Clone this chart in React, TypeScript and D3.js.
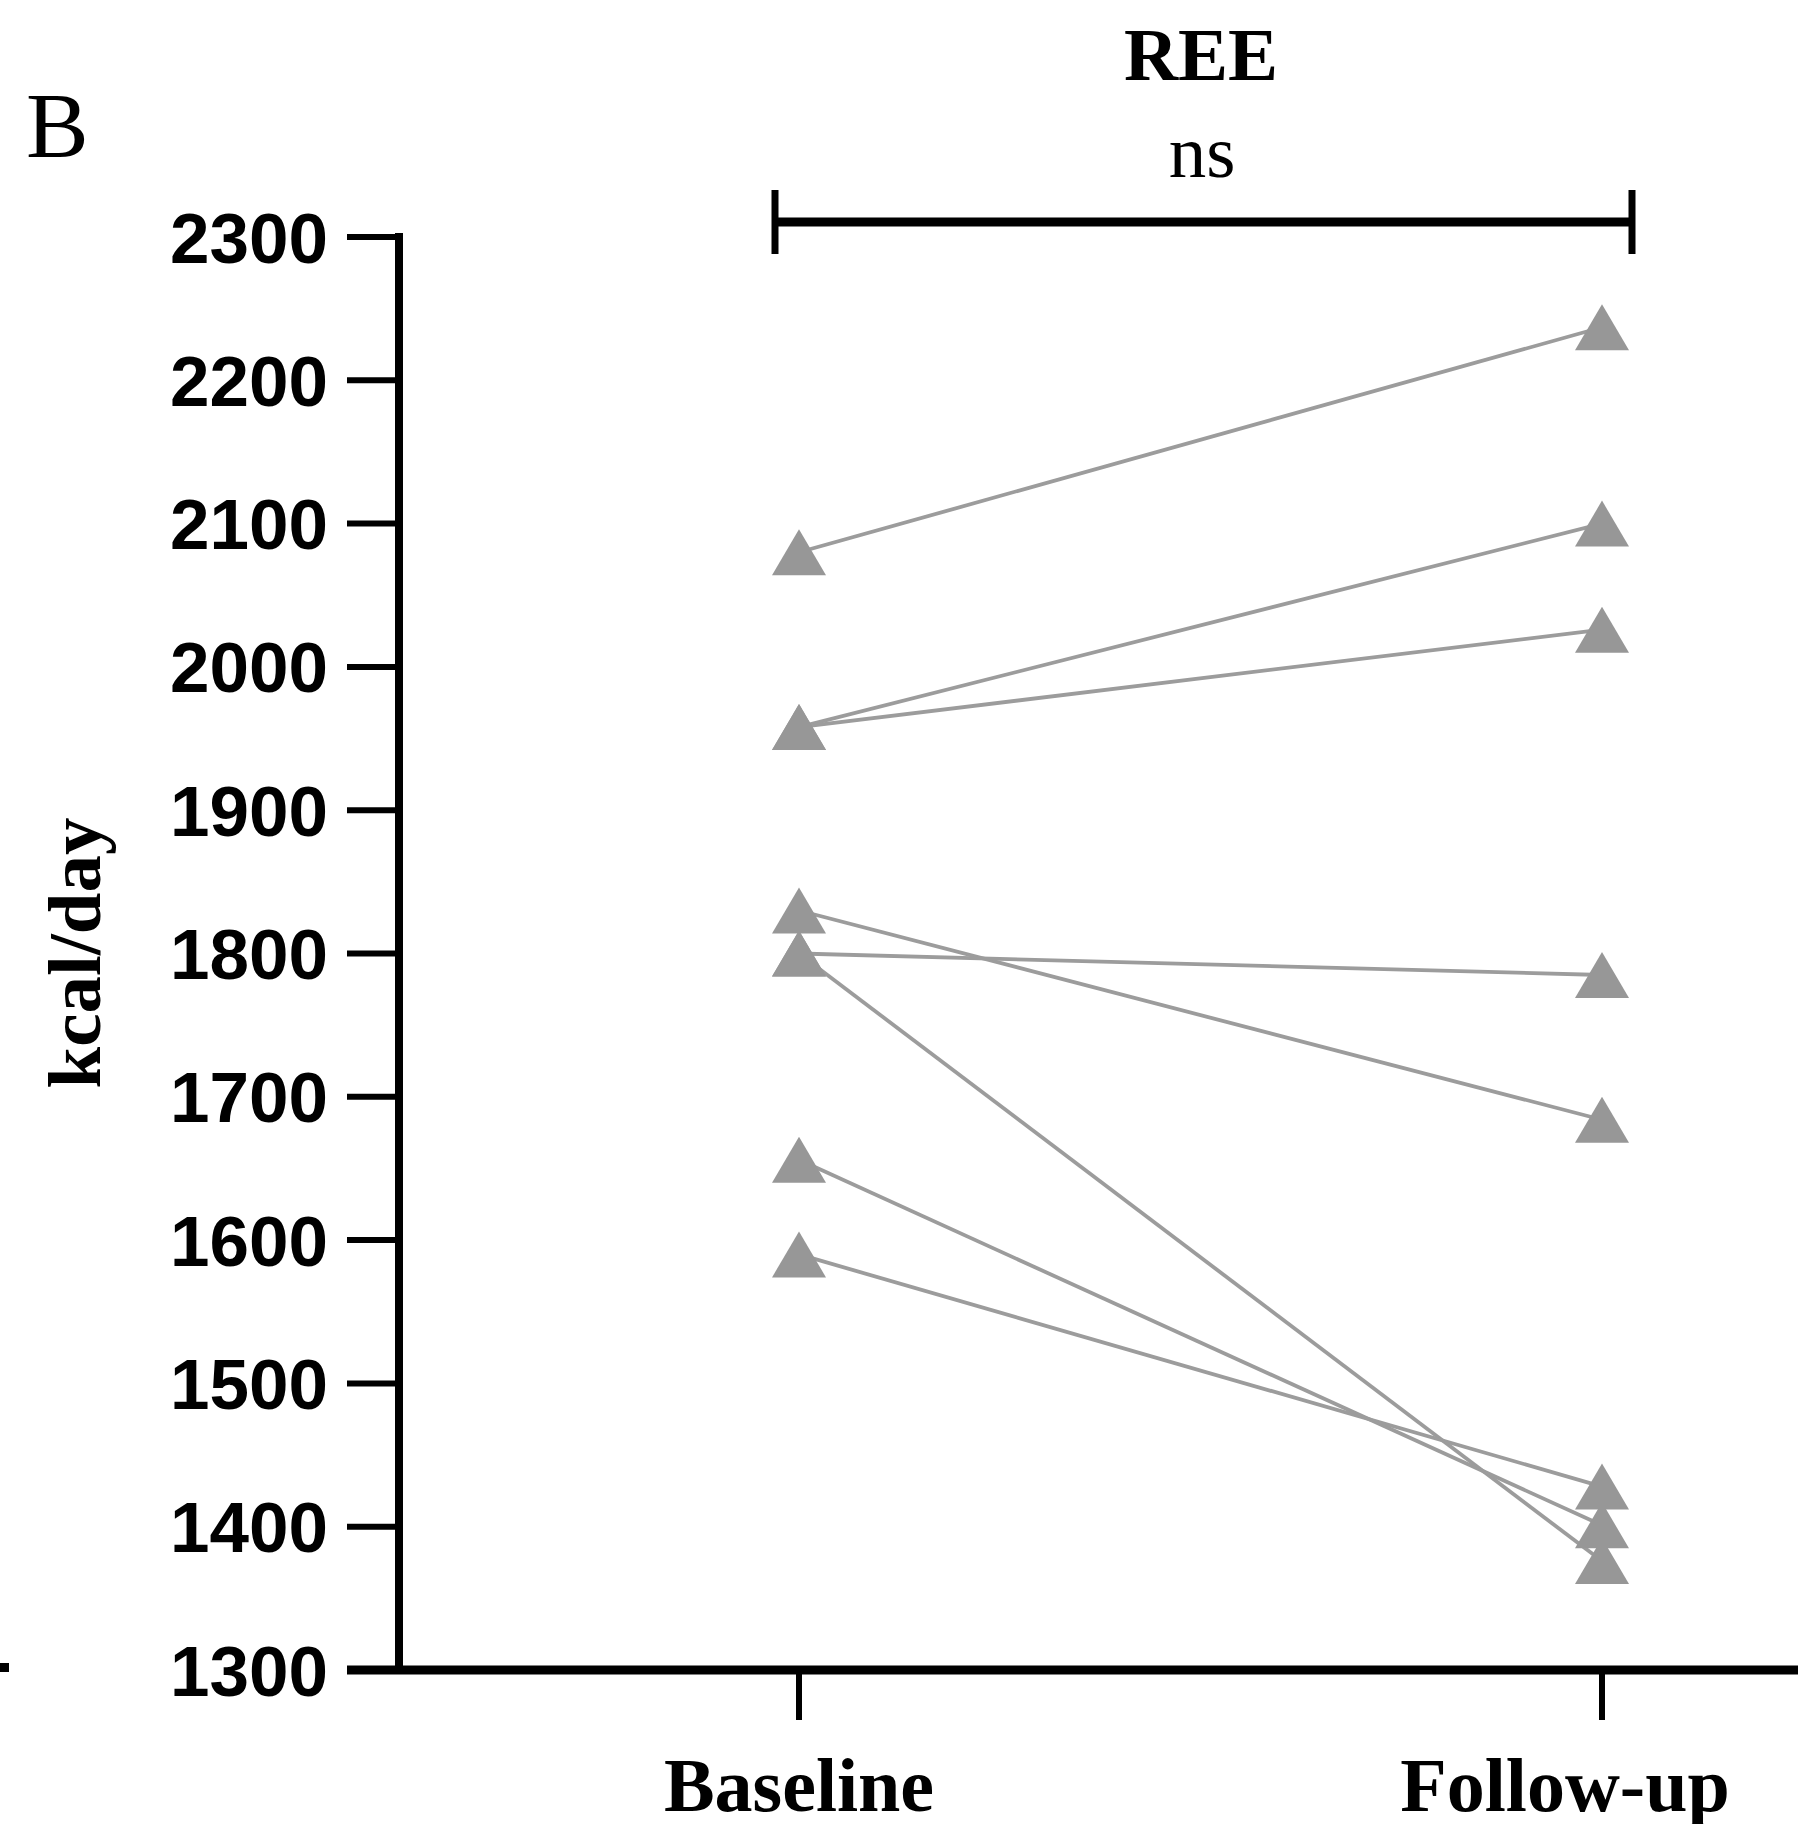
import React from "react";
import * as d3 from "d3";

const W = 1798;
const H = 1824;

const groups = ["Baseline", "Follow-up"];
const baseline = [2080, 1958, 1958, 1830, 1800, 1800, 1656, 1590];
const followUp = [2237, 2100, 2026, 1684, 1785, 1376, 1401, 1428];
const yTicks = [1300, 1400, 1500, 1600, 1700, 1800, 1900, 2000, 2100, 2200, 2300];
const title = "REE";
const sigLabel = "ns";
const panelLabel = "B";
const yLabel = "kcal/day";

const SERIF = "'Liberation Serif', 'Times New Roman', serif";
const SANS = "'Liberation Sans', Arial, sans-serif";

export default function App() {
  const y = d3.scaleLinear().domain([1300, 2300]).range([1670, 237]);
  const x = d3.scalePoint<string>().domain(groups).range([799, 1602]);

  const axisX = 399;
  const axisY = y(1300);

  const pairs = baseline.map((b, i) => [b, followUp[i]]);
  // triangle centred on its bounding box
  const tw = 27;
  const th = 23;
  const triPath = d3.line()([
    [0, -th],
    [tw, th],
    [-tw, th],
  ]) + "Z";

  const line = d3
    .line<[string, number]>()
    .x((d) => x(d[0]) as number)
    .y((d) => y(d[1]));

  const points: { g: string; v: number }[] = [];
  baseline.forEach((v) => points.push({ g: groups[0], v }));
  followUp.forEach((v) => points.push({ g: groups[1], v }));

  const bx0 = (x(groups[0]) as number) - 24;
  const bx1 = (x(groups[1]) as number) + 30;
  const by = 222;

  return (
    <svg
      width={W}
      height={H}
      viewBox={`0 0 ${W} ${H}`}
      style={{ position: "absolute", left: 0, top: 0, background: "#fff" }}
    >
      <rect x={0} y={0} width={W} height={H} fill="#fff" />
      {/* panel label */}
      <text x={26} y={157} fontFamily={SERIF} fontSize={94} fill="#000">
        {panelLabel}
      </text>
      {/* title */}
      <text x={1201} y={80} textAnchor="middle" fontFamily={SERIF} fontWeight="bold" fontSize={75} fill="#000">
        {title}
      </text>
      <text x={1202} y={177} textAnchor="middle" fontFamily={SERIF} fontSize={75} fill="#000">
        {sigLabel}
      </text>
      {/* significance bracket */}
      <line x1={bx0} x2={bx1} y1={by} y2={by} stroke="#000" strokeWidth={9} />
      <line x1={bx0} x2={bx0} y1={by - 32} y2={by + 32} stroke="#000" strokeWidth={7} />
      <line x1={bx1} x2={bx1} y1={by - 32} y2={by + 32} stroke="#000" strokeWidth={7} />

      {/* y axis */}
      <line x1={axisX} x2={axisX} y1={y(2300) - 4} y2={axisY} stroke="#000" strokeWidth={8} />
      {yTicks.map((t) => (
        <g key={t}>
          <line x1={347} x2={axisX} y1={y(t)} y2={y(t)} stroke="#000" strokeWidth={6} />
          <text
            x={328}
            y={y(t)}
            dy="0.36em"
            textAnchor="end"
            fontFamily={SANS}
            fontWeight="bold"
            fontSize={71}
            fill="#000"
          >
            {t}
          </text>
        </g>
      ))}
      <text
        transform={`translate(100, 953) rotate(-90)`}
        textAnchor="middle"
        fontFamily={SERIF}
        fontWeight="bold"
        fontSize={75}
        fill="#000"
      >
        {yLabel}
      </text>

      {/* x axis */}
      <line x1={347} x2={W} y1={axisY} y2={axisY} stroke="#000" strokeWidth={9} />
      {groups.map((g, i) => (
        <g key={g}>
          <line
            x1={x(g) as number}
            x2={x(g) as number}
            y1={axisY}
            y2={axisY + 50}
            stroke="#000"
            strokeWidth={6}
          />
          <text
            x={i === 0 ? (x(g) as number) : (x(g) as number) - 37}
            y={1811}
            textAnchor="middle"
            fontFamily={SERIF}
            fontWeight="bold"
            fontSize={76}
            fill="#000"
          >
            {g}
          </text>
        </g>
      ))}
      {/* stray mark at left edge */}
      <rect x={0} y={1663} width={9} height={9} fill="#000" />

      {/* paired lines */}
      {pairs.map((p, i) => (
        <path
          key={i}
          d={line([
            [groups[0], p[0]],
            [groups[1], p[1]],
          ]) as string}
          fill="none"
          stroke="#9c9c9c"
          strokeWidth={3.8}
        />
      ))}
      {/* triangles */}
      {points.map((p, i) => (
        <path
          key={i}
          d={triPath}
          transform={`translate(${x(p.g)}, ${y(p.v)})`}
          fill="#979797"
        />
      ))}
    </svg>
  );
}
